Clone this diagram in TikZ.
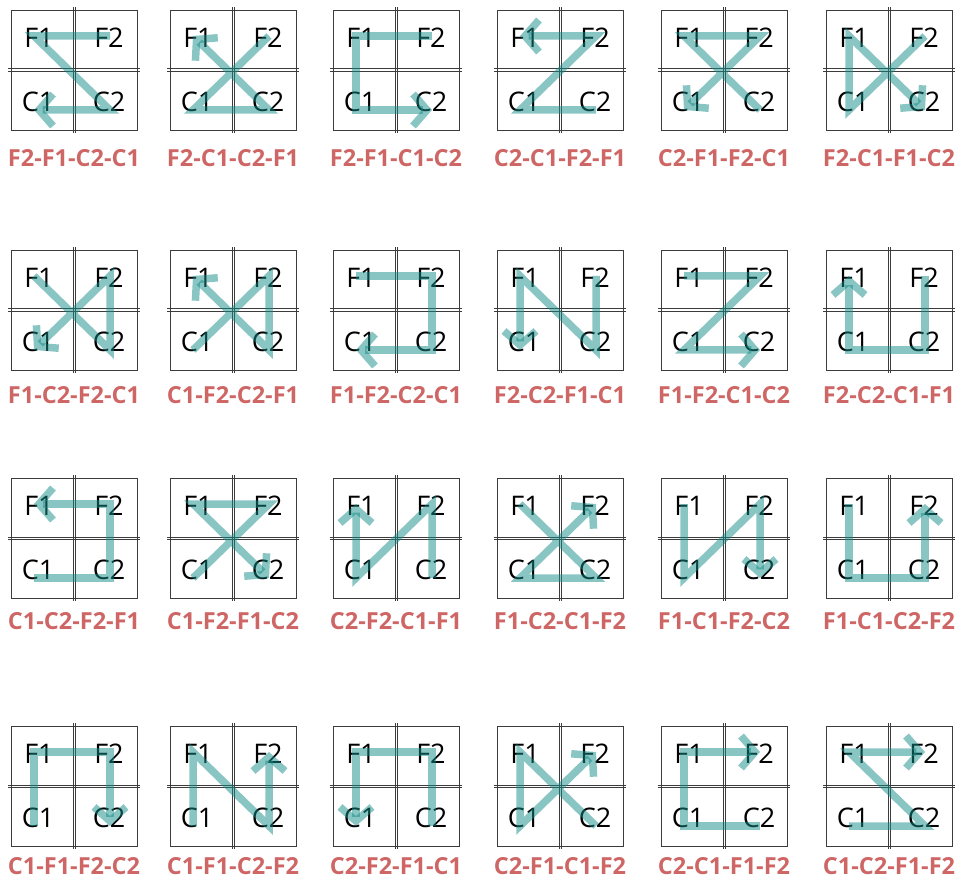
\documentclass[tikz,border=0pt]{standalone}
\usepackage{fontspec}
\setmainfont{Open Sans}
\usetikzlibrary{arrows.meta}
\definecolor{routeteal}{RGB}{20,140,135}
\definecolor{seqred}{RGB}{207,102,102}
\definecolor{boxgray}{RGB}{60,60,60}
\tikzset{
  cell/.style={draw=boxgray,line width=0.9pt,minimum width=126pt,minimum height=120pt,inner sep=0pt},
  divider/.style={draw=boxgray,line width=0.8pt},
  qlab/.style={font=\fontsize{27}{30}\selectfont,text=black,inner sep=0pt},
  plab/.style={font=\fontsize{23.5}{26}\selectfont\bfseries,text=seqred,inner sep=0pt},
  route/.style={draw=routeteal,draw opacity=0.5,line width=7.5pt,
    -{Straight Barb[length=14pt,width=32pt,line width=7.5pt]}}
}

\begin{document}
\begin{tikzpicture}[x=1pt,y=-1pt]
  \useasboundingbox (0,0) rectangle (964,882);
  \foreach \cx/\cy/\ly/\ua/\ub/\uc/\ud [count=\k] in {
      74/70/158/F2/F1/C2/C1, 233/70/158/F2/C1/C2/F1, 396/70/158/F2/F1/C1/C2,
      560/70/158/C2/C1/F2/F1, 724/70/158/C2/F1/F2/C1, 889/70/158/F2/C1/F1/C2,
      74/310/395/F1/C2/F2/C1, 233/310/395/C1/F2/C2/F1, 396/310/395/F1/F2/C2/C1,
      560/310/395/F2/C2/F1/C1, 724/310/395/F1/F2/C1/C2, 889/310/395/F2/C2/C1/F1,
      74/538/621/C1/C2/F2/F1, 233/538/621/C1/F2/F1/C2, 396/538/621/C2/F2/C1/F1,
      560/538/621/F1/C2/C1/F2, 724/538/621/F1/C1/F2/C2, 889/538/621/F1/C1/C2/F2,
      74/786/866/C1/F1/F2/C2, 233/786/866/C1/F1/C2/F2, 396/786/866/C2/F2/F1/C1,
      560/786/866/C2/F1/C1/F2, 724/786/866/C2/C1/F1/F2, 889/786/866/C1/C2/F1/F2} {
    % box with its two double dividers
    \node[cell] (box\k) at (\cx,\cy) {};
    \draw[divider] (\cx-1.1,\cy-63) -- (\cx-1.1,\cy+63) (\cx+1.1,\cy-63) -- (\cx+1.1,\cy+63);
    \draw[divider] (\cx-66,\cy-1.1) -- (\cx+66,\cy-1.1) (\cx-66,\cy+1.1) -- (\cx+66,\cy+1.1);
    % quadrant names
    \node[qlab] (tF1-\k) at (\cx-35,\cy-32) {F1};
    \node[qlab] (tF2-\k) at (\cx+35,\cy-32) {F2};
    \node[qlab] (tC1-\k) at (\cx-36,\cy+32) {C1};
    \node[qlab] (tC2-\k) at (\cx+35,\cy+32) {C2};
    % points the route passes
    \coordinate (F1-\k) at (\cx-40,\cy-34);
    \coordinate (F2-\k) at (\cx+36,\cy-34);
    \coordinate (C1-\k) at (\cx-40,\cy+40);
    \coordinate (C2-\k) at (\cx+36,\cy+40);
    \draw[route] (\ua-\k) -- (\ub-\k) -- (\uc-\k) -- (\ud-\k);
    \node[plab] (seq\k) at (\cx,\ly) {\ua-\ub-\uc-\ud};
  }
\end{tikzpicture}
\end{document}
